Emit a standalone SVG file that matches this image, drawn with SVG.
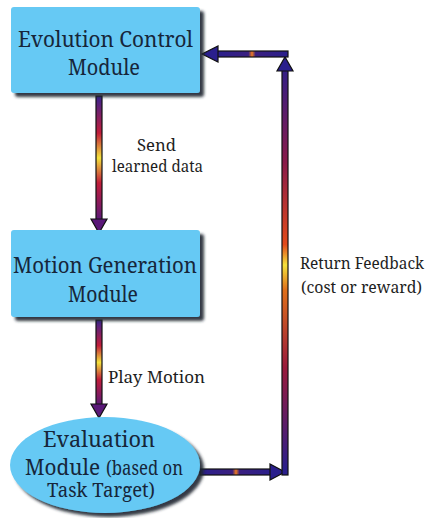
<svg xmlns="http://www.w3.org/2000/svg" width="432" height="518" viewBox="0 0 432 518">
  <defs>
    <linearGradient id="gradV" x1="0" y1="0" x2="0" y2="1">
      <stop offset="0" stop-color="#3a2390"/>
      <stop offset="0.3" stop-color="#c21d3a"/>
      <stop offset="0.5" stop-color="#f4e23c"/>
      <stop offset="0.7" stop-color="#c21d3a"/>
      <stop offset="1" stop-color="#5a1878"/>
    </linearGradient>
    <linearGradient id="gradFeed" gradientUnits="userSpaceOnUse" x1="0" y1="60" x2="0" y2="470">
      <stop offset="0" stop-color="#2a1f8c"/>
      <stop offset="0.25" stop-color="#8a1a4a"/>
      <stop offset="0.45" stop-color="#e24a1a"/>
      <stop offset="0.5" stop-color="#f4e23c"/>
      <stop offset="0.56" stop-color="#e0701a"/>
      <stop offset="0.75" stop-color="#9a1a3c"/>
      <stop offset="1" stop-color="#2a1f8c"/>
    </linearGradient>
    <linearGradient id="gradH" x1="0" y1="0" x2="1" y2="0">
      <stop offset="0" stop-color="#2a1f8c"/>
      <stop offset="0.45" stop-color="#3a1f80"/>
      <stop offset="0.5" stop-color="#f07a20"/>
      <stop offset="0.55" stop-color="#3a1f80"/>
      <stop offset="1" stop-color="#2a1f8c"/>
    </linearGradient>
    <filter id="shadow" x="-10%" y="-10%" width="125%" height="130%">
      <feGaussianBlur in="SourceAlpha" stdDeviation="1.5"/>
      <feOffset dx="4" dy="4" result="b"/>
      <feFlood flood-color="#1e2630" flood-opacity="0.9"/>
      <feComposite in2="b" operator="in"/>
      <feMerge><feMergeNode/><feMergeNode in="SourceGraphic"/></feMerge>
    </filter>
  </defs>
  <style>
    .box { fill: #66c9f4; filter: url(#shadow); }
    text { font-family: "Noto Serif", "DejaVu Serif", serif; }
    .node-text { fill: #16263a; }
    .big { font-size: 22px; }
    .small { font-size: 19px; }
    .label { font-size: 17px; fill: #1e1e1e; }
    .tight { font-size: 16px; }
    .arrow { stroke: #111; stroke-width: 1.2; stroke-linejoin: miter; }
  </style>
  <rect width="432" height="518" fill="#fff"/>

  <g id="connectors">
    <!-- Send learned data -->
    <g id="arrow-send">
      <rect class="arrow" x="96" y="96" width="6" height="124" fill="url(#gradV)"/>
      <polygon class="arrow" points="91,219 107,219 99,233" fill="#5a1878"/>
    </g>
    <!-- Play Motion -->
    <g id="arrow-play">
      <rect class="arrow" x="96" y="320" width="6" height="85" fill="url(#gradV)"/>
      <polygon class="arrow" points="91,404 107,404 99,418" fill="#5a1878"/>
    </g>
    <!-- Return Feedback loop -->
    <g id="arrow-feedback">
      <rect class="arrow" x="200" y="469" width="72" height="6" fill="url(#gradH)"/>
      <polygon class="arrow" points="270,464 270,480 285,472" fill="#2a1f8c"/>
      <rect class="arrow" x="282" y="70" width="6" height="405" fill="url(#gradFeed)"/>
      <polygon class="arrow" points="277,71 293,71 285,57" fill="#2a1f8c"/>
      <rect class="arrow" x="216" y="51" width="72" height="6" fill="url(#gradH)"/>
      <polygon class="arrow" points="218,46 218,62 202,54" fill="#2a1f8c"/>
    </g>
  </g>

  <g id="evolution-control">
    <rect class="box" x="11" y="7" width="189" height="86" rx="3"/>
    <text class="node-text big" x="18" y="47" textLength="175" lengthAdjust="spacingAndGlyphs">Evolution Control</text>
    <text class="node-text big" x="68" y="75" textLength="72" lengthAdjust="spacingAndGlyphs">Module</text>
  </g>

  <g id="motion-generation">
    <rect class="box" x="11" y="230" width="189" height="87" rx="3"/>
    <text class="node-text big" x="13" y="273" textLength="184" lengthAdjust="spacingAndGlyphs">Motion Generation</text>
    <text class="node-text big" x="68" y="302" textLength="70" lengthAdjust="spacingAndGlyphs">Module</text>
  </g>

  <g id="evaluation">
    <ellipse class="box" cx="105" cy="465" rx="95" ry="48"/>
    <text class="node-text big" x="43" y="447" textLength="112" lengthAdjust="spacingAndGlyphs">Evaluation</text>
    <text class="node-text" y="475"><tspan class="big" x="25" textLength="75" lengthAdjust="spacingAndGlyphs">Module</tspan><tspan class="small" x="106" textLength="77" lengthAdjust="spacingAndGlyphs">(based on</tspan></text>
    <text class="node-text small" x="47" y="497" textLength="108" lengthAdjust="spacingAndGlyphs">Task Target)</text>
  </g>

  <g id="labels">
    <text class="label tight" x="137" y="151" textLength="39" lengthAdjust="spacingAndGlyphs">Send</text>
    <text class="label tight" x="112" y="172" textLength="91" lengthAdjust="spacingAndGlyphs">learned data</text>
    <text class="label" x="108" y="383" textLength="97" lengthAdjust="spacingAndGlyphs">Play Motion</text>
    <text class="label" x="300" y="269" textLength="124" lengthAdjust="spacingAndGlyphs">Return Feedback</text>
    <text class="label" x="301" y="293" textLength="121" lengthAdjust="spacingAndGlyphs">(cost or reward)</text>
  </g>
</svg>
